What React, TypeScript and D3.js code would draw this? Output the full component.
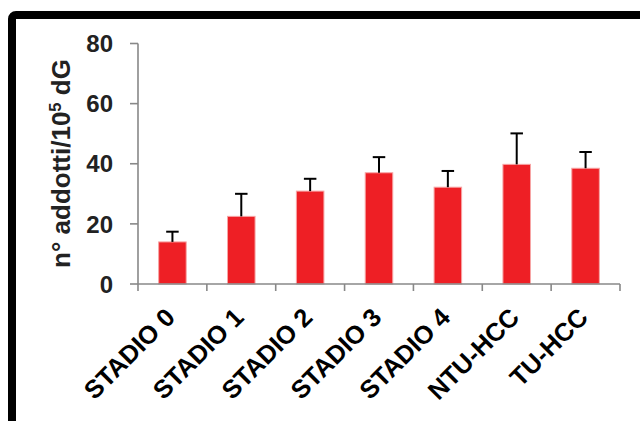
import React from "react";
import * as d3 from "d3";

const categories = ["STADIO 0", "STADIO 1", "STADIO 2", "STADIO 3", "STADIO 4", "NTU-HCC", "TU-HCC"];
const means = [14.0, 22.5, 30.9, 37.0, 32.2, 39.8, 38.5];
const errors = [3.4, 7.5, 4.1, 5.2, 5.4, 10.3, 5.4];
const yTicks = [0, 20, 40, 60, 80];

const W = 640;
const H = 421;
const left = 138;
const right = 620;
const top = 43.5;
const bottom = 284;
const FONT = "'Liberation Sans', Arial, sans-serif";

export default function App() {
  const x = d3.scaleBand<string>().domain(categories).range([left, right]).paddingInner(0.6).paddingOuter(0.3);
  const xOuter = d3.scaleBand<string>().domain(categories).range([left, right]);
  const y = d3.scaleLinear().domain([0, 80]).range([bottom, top]);
  const capW = 12.5;

  return (
    <svg width={W} height={H} style={{ position: "absolute", left: 0, top: 0, background: "#fff" }}>
      <rect x={12} y={15} width={W + 20} height={H + 20} rx={4} fill="#fff" stroke="#000" strokeWidth={8} />

      {/* y axis */}
      <line x1={left} x2={left} y1={top} y2={bottom} stroke="#888" strokeWidth={1.6} />
      {yTicks.map((t) => (
        <g key={t}>
          <line x1={left - 8} x2={left} y1={y(t)} y2={y(t)} stroke="#888" strokeWidth={1.6} />
          <text x={113} y={y(t)} dy="0.36em" textAnchor="end" fontFamily={FONT} fontWeight="bold" fontSize={24} fill="#222">
            {t}
          </text>
        </g>
      ))}

      {/* bars with error bars */}
      {categories.map((c, i) => {
        const bx = x(c)!;
        const cx = bx + x.bandwidth() / 2;
        return (
          <g key={c}>
            <rect x={bx} y={y(means[i])} width={x.bandwidth()} height={bottom - y(means[i])} fill="#ee1f25" stroke="#f7a5a5" strokeWidth={1} />
            <line x1={cx} x2={cx} y1={y(means[i])} y2={y(means[i] + errors[i])} stroke="#000" strokeWidth={2} />
            <line x1={cx - capW / 2} x2={cx + capW / 2} y1={y(means[i] + errors[i])} y2={y(means[i] + errors[i])} stroke="#000" strokeWidth={2} />
          </g>
        );
      })}

      {/* x axis */}
      <line x1={left} x2={right} y1={bottom} y2={bottom} stroke="#888" strokeWidth={1.6} />
      {[...categories.map((c) => xOuter(c)!), right].map((tx, i) => (
        <line key={i} x1={tx} x2={tx} y1={bottom} y2={bottom + 7} stroke="#888" strokeWidth={1.6} />
      ))}
      {categories.map((c) => {
        const cx = xOuter(c)! + xOuter.bandwidth() / 2;
        return (
          <text key={c} transform={`translate(${cx + 4},${319}) rotate(-45)`} textAnchor="end" fontFamily={FONT} fontWeight="bold" fontSize={25.5} fill="#000">
            {c}
          </text>
        );
      })}

      {/* y axis title */}
      <text transform={`translate(70,${(59 + 268) / 2}) rotate(-90)`} textAnchor="middle" fontFamily={FONT} fontWeight="bold" fontSize={26} fill="#222">
        n° addotti/10<tspan fontSize={16.5} dy={-9.5}>5</tspan><tspan dy={9.5}> dG</tspan>
      </text>
    </svg>
  );
}
